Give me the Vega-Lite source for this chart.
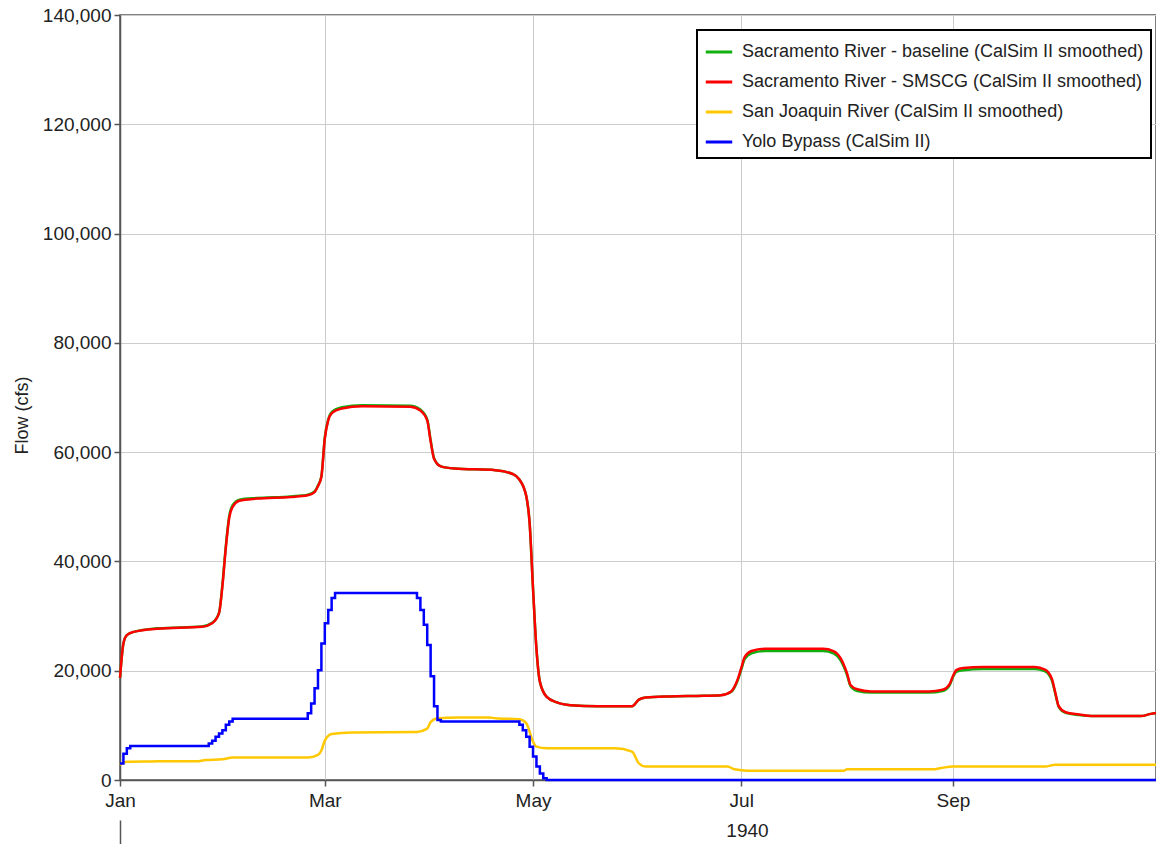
{
"$schema":"https://vega.github.io/schema/vega-lite/v6.json",
"width":1036,"height":765,
"autosize":{"type":"none"},
"padding":{"left":120,"top":15,"right":0,"bottom":64},
"background":"white",
"config":{
 "font":"Liberation Sans",
 "view":{"stroke":"#555","strokeWidth":1.5},
 "axis":{"labelFont":"Liberation Sans","labelFontSize":19,"labelColor":"#222","titleFont":"Liberation Sans","titleFontWeight":"normal","titleColor":"#222","domainColor":"#555","domainWidth":1.5,"tickColor":"#555","tickWidth":1.5,"gridColor":"#cccccc","gridWidth":1},
 "legend":{"strokeColor":"#000","strokeWidth":2,"fillColor":"#fff","cornerRadius":0,"padding":7}
},
"datasets":{
"main":[
{"date":"1940-01-01","series":"Sacramento River - baseline (CalSim II smoothed)","flow":18700},
{"date":"1940-01-02","series":"Sacramento River - baseline (CalSim II smoothed)","flow":25000},
{"date":"1940-01-03","series":"Sacramento River - baseline (CalSim II smoothed)","flow":26500},
{"date":"1940-01-05","series":"Sacramento River - baseline (CalSim II smoothed)","flow":27100},
{"date":"1940-01-12","series":"Sacramento River - baseline (CalSim II smoothed)","flow":27750},
{"date":"1940-01-25","series":"Sacramento River - baseline (CalSim II smoothed)","flow":28100},
{"date":"1940-01-28","series":"Sacramento River - baseline (CalSim II smoothed)","flow":28750},
{"date":"1940-01-30","series":"Sacramento River - baseline (CalSim II smoothed)","flow":30600},
{"date":"1940-01-31","series":"Sacramento River - baseline (CalSim II smoothed)","flow":35700},
{"date":"1940-02-01","series":"Sacramento River - baseline (CalSim II smoothed)","flow":42800},
{"date":"1940-02-02","series":"Sacramento River - baseline (CalSim II smoothed)","flow":48300},
{"date":"1940-02-03","series":"Sacramento River - baseline (CalSim II smoothed)","flow":50300},
{"date":"1940-02-05","series":"Sacramento River - baseline (CalSim II smoothed)","flow":51300},
{"date":"1940-02-10","series":"Sacramento River - baseline (CalSim II smoothed)","flow":51600},
{"date":"1940-02-20","series":"Sacramento River - baseline (CalSim II smoothed)","flow":51900},
{"date":"1940-02-25","series":"Sacramento River - baseline (CalSim II smoothed)","flow":52200},
{"date":"1940-02-27","series":"Sacramento River - baseline (CalSim II smoothed)","flow":52800},
{"date":"1940-02-28","series":"Sacramento River - baseline (CalSim II smoothed)","flow":53900},
{"date":"1940-02-29","series":"Sacramento River - baseline (CalSim II smoothed)","flow":55600},
{"date":"1940-03-01","series":"Sacramento River - baseline (CalSim II smoothed)","flow":62700},
{"date":"1940-03-02","series":"Sacramento River - baseline (CalSim II smoothed)","flow":66000},
{"date":"1940-03-03","series":"Sacramento River - baseline (CalSim II smoothed)","flow":67300},
{"date":"1940-03-06","series":"Sacramento River - baseline (CalSim II smoothed)","flow":68200},
{"date":"1940-03-12","series":"Sacramento River - baseline (CalSim II smoothed)","flow":68600},
{"date":"1940-03-26","series":"Sacramento River - baseline (CalSim II smoothed)","flow":68500},
{"date":"1940-03-29","series":"Sacramento River - baseline (CalSim II smoothed)","flow":67800},
{"date":"1940-03-31","series":"Sacramento River - baseline (CalSim II smoothed)","flow":66000},
{"date":"1940-04-01","series":"Sacramento River - baseline (CalSim II smoothed)","flow":62200},
{"date":"1940-04-02","series":"Sacramento River - baseline (CalSim II smoothed)","flow":58900},
{"date":"1940-04-04","series":"Sacramento River - baseline (CalSim II smoothed)","flow":57400},
{"date":"1940-04-08","series":"Sacramento River - baseline (CalSim II smoothed)","flow":57000},
{"date":"1940-04-20","series":"Sacramento River - baseline (CalSim II smoothed)","flow":56700},
{"date":"1940-04-25","series":"Sacramento River - baseline (CalSim II smoothed)","flow":56000},
{"date":"1940-04-27","series":"Sacramento River - baseline (CalSim II smoothed)","flow":55000},
{"date":"1940-04-29","series":"Sacramento River - baseline (CalSim II smoothed)","flow":52000},
{"date":"1940-04-30","series":"Sacramento River - baseline (CalSim II smoothed)","flow":47000},
{"date":"1940-05-01","series":"Sacramento River - baseline (CalSim II smoothed)","flow":35000},
{"date":"1940-05-02","series":"Sacramento River - baseline (CalSim II smoothed)","flow":24000},
{"date":"1940-05-03","series":"Sacramento River - baseline (CalSim II smoothed)","flow":18000},
{"date":"1940-05-05","series":"Sacramento River - baseline (CalSim II smoothed)","flow":15200},
{"date":"1940-05-08","series":"Sacramento River - baseline (CalSim II smoothed)","flow":14200},
{"date":"1940-05-12","series":"Sacramento River - baseline (CalSim II smoothed)","flow":13700},
{"date":"1940-05-20","series":"Sacramento River - baseline (CalSim II smoothed)","flow":13500},
{"date":"1940-05-30","series":"Sacramento River - baseline (CalSim II smoothed)","flow":13500},
{"date":"1940-06-01","series":"Sacramento River - baseline (CalSim II smoothed)","flow":14700},
{"date":"1940-06-03","series":"Sacramento River - baseline (CalSim II smoothed)","flow":15100},
{"date":"1940-06-10","series":"Sacramento River - baseline (CalSim II smoothed)","flow":15300},
{"date":"1940-06-20","series":"Sacramento River - baseline (CalSim II smoothed)","flow":15400},
{"date":"1940-06-25","series":"Sacramento River - baseline (CalSim II smoothed)","flow":15500},
{"date":"1940-06-28","series":"Sacramento River - baseline (CalSim II smoothed)","flow":16100},
{"date":"1940-06-30","series":"Sacramento River - baseline (CalSim II smoothed)","flow":18300},
{"date":"1940-07-01","series":"Sacramento River - baseline (CalSim II smoothed)","flow":20200},
{"date":"1940-07-02","series":"Sacramento River - baseline (CalSim II smoothed)","flow":22100},
{"date":"1940-07-04","series":"Sacramento River - baseline (CalSim II smoothed)","flow":23200},
{"date":"1940-07-08","series":"Sacramento River - baseline (CalSim II smoothed)","flow":23600},
{"date":"1940-07-25","series":"Sacramento River - baseline (CalSim II smoothed)","flow":23600},
{"date":"1940-07-28","series":"Sacramento River - baseline (CalSim II smoothed)","flow":23200},
{"date":"1940-07-30","series":"Sacramento River - baseline (CalSim II smoothed)","flow":22000},
{"date":"1940-08-01","series":"Sacramento River - baseline (CalSim II smoothed)","flow":19200},
{"date":"1940-08-02","series":"Sacramento River - baseline (CalSim II smoothed)","flow":17200},
{"date":"1940-08-04","series":"Sacramento River - baseline (CalSim II smoothed)","flow":16300},
{"date":"1940-08-08","series":"Sacramento River - baseline (CalSim II smoothed)","flow":16000},
{"date":"1940-08-25","series":"Sacramento River - baseline (CalSim II smoothed)","flow":16000},
{"date":"1940-08-29","series":"Sacramento River - baseline (CalSim II smoothed)","flow":16300},
{"date":"1940-08-31","series":"Sacramento River - baseline (CalSim II smoothed)","flow":17300},
{"date":"1940-09-01","series":"Sacramento River - baseline (CalSim II smoothed)","flow":18800},
{"date":"1940-09-02","series":"Sacramento River - baseline (CalSim II smoothed)","flow":19800},
{"date":"1940-09-04","series":"Sacramento River - baseline (CalSim II smoothed)","flow":20100},
{"date":"1940-09-10","series":"Sacramento River - baseline (CalSim II smoothed)","flow":20300},
{"date":"1940-09-25","series":"Sacramento River - baseline (CalSim II smoothed)","flow":20300},
{"date":"1940-09-28","series":"Sacramento River - baseline (CalSim II smoothed)","flow":19900},
{"date":"1940-09-30","series":"Sacramento River - baseline (CalSim II smoothed)","flow":18200},
{"date":"1940-10-01","series":"Sacramento River - baseline (CalSim II smoothed)","flow":15800},
{"date":"1940-10-02","series":"Sacramento River - baseline (CalSim II smoothed)","flow":13400},
{"date":"1940-10-04","series":"Sacramento River - baseline (CalSim II smoothed)","flow":12300},
{"date":"1940-10-08","series":"Sacramento River - baseline (CalSim II smoothed)","flow":11900},
{"date":"1940-10-12","series":"Sacramento River - baseline (CalSim II smoothed)","flow":11700},
{"date":"1940-10-26","series":"Sacramento River - baseline (CalSim II smoothed)","flow":11700},
{"date":"1940-10-29","series":"Sacramento River - baseline (CalSim II smoothed)","flow":12100},
{"date":"1940-10-31","series":"Sacramento River - baseline (CalSim II smoothed)","flow":12300},
{"date":"1940-01-01","series":"Sacramento River - SMSCG (CalSim II smoothed)","flow":18700},
{"date":"1940-01-02","series":"Sacramento River - SMSCG (CalSim II smoothed)","flow":25000},
{"date":"1940-01-03","series":"Sacramento River - SMSCG (CalSim II smoothed)","flow":26500},
{"date":"1940-01-05","series":"Sacramento River - SMSCG (CalSim II smoothed)","flow":27100},
{"date":"1940-01-12","series":"Sacramento River - SMSCG (CalSim II smoothed)","flow":27700},
{"date":"1940-01-25","series":"Sacramento River - SMSCG (CalSim II smoothed)","flow":28050},
{"date":"1940-01-28","series":"Sacramento River - SMSCG (CalSim II smoothed)","flow":28700},
{"date":"1940-01-30","series":"Sacramento River - SMSCG (CalSim II smoothed)","flow":30500},
{"date":"1940-01-31","series":"Sacramento River - SMSCG (CalSim II smoothed)","flow":35500},
{"date":"1940-02-01","series":"Sacramento River - SMSCG (CalSim II smoothed)","flow":42500},
{"date":"1940-02-02","series":"Sacramento River - SMSCG (CalSim II smoothed)","flow":48000},
{"date":"1940-02-03","series":"Sacramento River - SMSCG (CalSim II smoothed)","flow":50000},
{"date":"1940-02-05","series":"Sacramento River - SMSCG (CalSim II smoothed)","flow":51100},
{"date":"1940-02-10","series":"Sacramento River - SMSCG (CalSim II smoothed)","flow":51500},
{"date":"1940-02-20","series":"Sacramento River - SMSCG (CalSim II smoothed)","flow":51800},
{"date":"1940-02-25","series":"Sacramento River - SMSCG (CalSim II smoothed)","flow":52100},
{"date":"1940-02-27","series":"Sacramento River - SMSCG (CalSim II smoothed)","flow":52700},
{"date":"1940-02-28","series":"Sacramento River - SMSCG (CalSim II smoothed)","flow":53800},
{"date":"1940-02-29","series":"Sacramento River - SMSCG (CalSim II smoothed)","flow":55500},
{"date":"1940-03-01","series":"Sacramento River - SMSCG (CalSim II smoothed)","flow":62500},
{"date":"1940-03-02","series":"Sacramento River - SMSCG (CalSim II smoothed)","flow":65800},
{"date":"1940-03-03","series":"Sacramento River - SMSCG (CalSim II smoothed)","flow":67100},
{"date":"1940-03-06","series":"Sacramento River - SMSCG (CalSim II smoothed)","flow":68000},
{"date":"1940-03-12","series":"Sacramento River - SMSCG (CalSim II smoothed)","flow":68400},
{"date":"1940-03-26","series":"Sacramento River - SMSCG (CalSim II smoothed)","flow":68300},
{"date":"1940-03-29","series":"Sacramento River - SMSCG (CalSim II smoothed)","flow":67600},
{"date":"1940-03-31","series":"Sacramento River - SMSCG (CalSim II smoothed)","flow":65800},
{"date":"1940-04-01","series":"Sacramento River - SMSCG (CalSim II smoothed)","flow":62000},
{"date":"1940-04-02","series":"Sacramento River - SMSCG (CalSim II smoothed)","flow":58800},
{"date":"1940-04-04","series":"Sacramento River - SMSCG (CalSim II smoothed)","flow":57400},
{"date":"1940-04-08","series":"Sacramento River - SMSCG (CalSim II smoothed)","flow":57000},
{"date":"1940-04-20","series":"Sacramento River - SMSCG (CalSim II smoothed)","flow":56700},
{"date":"1940-04-25","series":"Sacramento River - SMSCG (CalSim II smoothed)","flow":56000},
{"date":"1940-04-27","series":"Sacramento River - SMSCG (CalSim II smoothed)","flow":55000},
{"date":"1940-04-29","series":"Sacramento River - SMSCG (CalSim II smoothed)","flow":52000},
{"date":"1940-04-30","series":"Sacramento River - SMSCG (CalSim II smoothed)","flow":47000},
{"date":"1940-05-01","series":"Sacramento River - SMSCG (CalSim II smoothed)","flow":35000},
{"date":"1940-05-02","series":"Sacramento River - SMSCG (CalSim II smoothed)","flow":24000},
{"date":"1940-05-03","series":"Sacramento River - SMSCG (CalSim II smoothed)","flow":18000},
{"date":"1940-05-05","series":"Sacramento River - SMSCG (CalSim II smoothed)","flow":15200},
{"date":"1940-05-08","series":"Sacramento River - SMSCG (CalSim II smoothed)","flow":14200},
{"date":"1940-05-12","series":"Sacramento River - SMSCG (CalSim II smoothed)","flow":13700},
{"date":"1940-05-20","series":"Sacramento River - SMSCG (CalSim II smoothed)","flow":13500},
{"date":"1940-05-30","series":"Sacramento River - SMSCG (CalSim II smoothed)","flow":13500},
{"date":"1940-06-01","series":"Sacramento River - SMSCG (CalSim II smoothed)","flow":14700},
{"date":"1940-06-03","series":"Sacramento River - SMSCG (CalSim II smoothed)","flow":15100},
{"date":"1940-06-10","series":"Sacramento River - SMSCG (CalSim II smoothed)","flow":15300},
{"date":"1940-06-20","series":"Sacramento River - SMSCG (CalSim II smoothed)","flow":15400},
{"date":"1940-06-25","series":"Sacramento River - SMSCG (CalSim II smoothed)","flow":15500},
{"date":"1940-06-28","series":"Sacramento River - SMSCG (CalSim II smoothed)","flow":16200},
{"date":"1940-06-30","series":"Sacramento River - SMSCG (CalSim II smoothed)","flow":18500},
{"date":"1940-07-01","series":"Sacramento River - SMSCG (CalSim II smoothed)","flow":20500},
{"date":"1940-07-02","series":"Sacramento River - SMSCG (CalSim II smoothed)","flow":22500},
{"date":"1940-07-04","series":"Sacramento River - SMSCG (CalSim II smoothed)","flow":23600},
{"date":"1940-07-08","series":"Sacramento River - SMSCG (CalSim II smoothed)","flow":24000},
{"date":"1940-07-25","series":"Sacramento River - SMSCG (CalSim II smoothed)","flow":24000},
{"date":"1940-07-28","series":"Sacramento River - SMSCG (CalSim II smoothed)","flow":23600},
{"date":"1940-07-30","series":"Sacramento River - SMSCG (CalSim II smoothed)","flow":22400},
{"date":"1940-08-01","series":"Sacramento River - SMSCG (CalSim II smoothed)","flow":19500},
{"date":"1940-08-02","series":"Sacramento River - SMSCG (CalSim II smoothed)","flow":17400},
{"date":"1940-08-04","series":"Sacramento River - SMSCG (CalSim II smoothed)","flow":16600},
{"date":"1940-08-08","series":"Sacramento River - SMSCG (CalSim II smoothed)","flow":16200},
{"date":"1940-08-25","series":"Sacramento River - SMSCG (CalSim II smoothed)","flow":16200},
{"date":"1940-08-29","series":"Sacramento River - SMSCG (CalSim II smoothed)","flow":16500},
{"date":"1940-08-31","series":"Sacramento River - SMSCG (CalSim II smoothed)","flow":17500},
{"date":"1940-09-01","series":"Sacramento River - SMSCG (CalSim II smoothed)","flow":19000},
{"date":"1940-09-02","series":"Sacramento River - SMSCG (CalSim II smoothed)","flow":20100},
{"date":"1940-09-04","series":"Sacramento River - SMSCG (CalSim II smoothed)","flow":20500},
{"date":"1940-09-10","series":"Sacramento River - SMSCG (CalSim II smoothed)","flow":20700},
{"date":"1940-09-25","series":"Sacramento River - SMSCG (CalSim II smoothed)","flow":20700},
{"date":"1940-09-28","series":"Sacramento River - SMSCG (CalSim II smoothed)","flow":20200},
{"date":"1940-09-30","series":"Sacramento River - SMSCG (CalSim II smoothed)","flow":18500},
{"date":"1940-10-01","series":"Sacramento River - SMSCG (CalSim II smoothed)","flow":16000},
{"date":"1940-10-02","series":"Sacramento River - SMSCG (CalSim II smoothed)","flow":13500},
{"date":"1940-10-04","series":"Sacramento River - SMSCG (CalSim II smoothed)","flow":12400},
{"date":"1940-10-08","series":"Sacramento River - SMSCG (CalSim II smoothed)","flow":12000},
{"date":"1940-10-12","series":"Sacramento River - SMSCG (CalSim II smoothed)","flow":11700},
{"date":"1940-10-26","series":"Sacramento River - SMSCG (CalSim II smoothed)","flow":11700},
{"date":"1940-10-29","series":"Sacramento River - SMSCG (CalSim II smoothed)","flow":12100},
{"date":"1940-10-31","series":"Sacramento River - SMSCG (CalSim II smoothed)","flow":12300},
{"date":"1940-01-01","series":"San Joaquin River (CalSim II smoothed)","flow":2750},
{"date":"1940-01-03","series":"San Joaquin River (CalSim II smoothed)","flow":3350},
{"date":"1940-01-10","series":"San Joaquin River (CalSim II smoothed)","flow":3400},
{"date":"1940-01-24","series":"San Joaquin River (CalSim II smoothed)","flow":3450},
{"date":"1940-01-26","series":"San Joaquin River (CalSim II smoothed)","flow":3650},
{"date":"1940-01-31","series":"San Joaquin River (CalSim II smoothed)","flow":3800},
{"date":"1940-02-03","series":"San Joaquin River (CalSim II smoothed)","flow":4100},
{"date":"1940-02-25","series":"San Joaquin River (CalSim II smoothed)","flow":4100},
{"date":"1940-02-28","series":"San Joaquin River (CalSim II smoothed)","flow":4600},
{"date":"1940-02-29","series":"San Joaquin River (CalSim II smoothed)","flow":5400},
{"date":"1940-03-01","series":"San Joaquin River (CalSim II smoothed)","flow":7200},
{"date":"1940-03-03","series":"San Joaquin River (CalSim II smoothed)","flow":8400},
{"date":"1940-03-09","series":"San Joaquin River (CalSim II smoothed)","flow":8700},
{"date":"1940-03-28","series":"San Joaquin River (CalSim II smoothed)","flow":8800},
{"date":"1940-03-31","series":"San Joaquin River (CalSim II smoothed)","flow":9400},
{"date":"1940-04-01","series":"San Joaquin River (CalSim II smoothed)","flow":10600},
{"date":"1940-04-03","series":"San Joaquin River (CalSim II smoothed)","flow":11300},
{"date":"1940-04-09","series":"San Joaquin River (CalSim II smoothed)","flow":11450},
{"date":"1940-04-18","series":"San Joaquin River (CalSim II smoothed)","flow":11450},
{"date":"1940-04-20","series":"San Joaquin River (CalSim II smoothed)","flow":11300},
{"date":"1940-04-27","series":"San Joaquin River (CalSim II smoothed)","flow":11100},
{"date":"1940-04-29","series":"San Joaquin River (CalSim II smoothed)","flow":10400},
{"date":"1940-05-01","series":"San Joaquin River (CalSim II smoothed)","flow":7000},
{"date":"1940-05-02","series":"San Joaquin River (CalSim II smoothed)","flow":6100},
{"date":"1940-05-05","series":"San Joaquin River (CalSim II smoothed)","flow":5800},
{"date":"1940-05-25","series":"San Joaquin River (CalSim II smoothed)","flow":5800},
{"date":"1940-05-30","series":"San Joaquin River (CalSim II smoothed)","flow":5200},
{"date":"1940-06-01","series":"San Joaquin River (CalSim II smoothed)","flow":3050},
{"date":"1940-06-03","series":"San Joaquin River (CalSim II smoothed)","flow":2450},
{"date":"1940-06-27","series":"San Joaquin River (CalSim II smoothed)","flow":2450},
{"date":"1940-06-29","series":"San Joaquin River (CalSim II smoothed)","flow":1950},
{"date":"1940-07-03","series":"San Joaquin River (CalSim II smoothed)","flow":1700},
{"date":"1940-07-31","series":"San Joaquin River (CalSim II smoothed)","flow":1700},
{"date":"1940-08-01","series":"San Joaquin River (CalSim II smoothed)","flow":1950},
{"date":"1940-08-26","series":"San Joaquin River (CalSim II smoothed)","flow":1950},
{"date":"1940-08-29","series":"San Joaquin River (CalSim II smoothed)","flow":2250},
{"date":"1940-09-01","series":"San Joaquin River (CalSim II smoothed)","flow":2450},
{"date":"1940-09-28","series":"San Joaquin River (CalSim II smoothed)","flow":2450},
{"date":"1940-10-01","series":"San Joaquin River (CalSim II smoothed)","flow":2800},
{"date":"1940-10-31","series":"San Joaquin River (CalSim II smoothed)","flow":2800}
],
"yolo":[
{"date":"1940-01-01","series":"Yolo Bypass (CalSim II)","flow":3000},
{"date":"1940-01-02","series":"Yolo Bypass (CalSim II)","flow":4800},
{"date":"1940-01-03","series":"Yolo Bypass (CalSim II)","flow":5800},
{"date":"1940-01-04","series":"Yolo Bypass (CalSim II)","flow":6200},
{"date":"1940-01-27","series":"Yolo Bypass (CalSim II)","flow":6700},
{"date":"1940-01-28","series":"Yolo Bypass (CalSim II)","flow":7200},
{"date":"1940-01-29","series":"Yolo Bypass (CalSim II)","flow":7900},
{"date":"1940-01-30","series":"Yolo Bypass (CalSim II)","flow":8500},
{"date":"1940-01-31","series":"Yolo Bypass (CalSim II)","flow":9100},
{"date":"1940-02-01","series":"Yolo Bypass (CalSim II)","flow":10100},
{"date":"1940-02-02","series":"Yolo Bypass (CalSim II)","flow":10700},
{"date":"1940-02-03","series":"Yolo Bypass (CalSim II)","flow":11200},
{"date":"1940-02-25","series":"Yolo Bypass (CalSim II)","flow":12200},
{"date":"1940-02-26","series":"Yolo Bypass (CalSim II)","flow":14000},
{"date":"1940-02-27","series":"Yolo Bypass (CalSim II)","flow":16800},
{"date":"1940-02-28","series":"Yolo Bypass (CalSim II)","flow":20100},
{"date":"1940-02-29","series":"Yolo Bypass (CalSim II)","flow":25000},
{"date":"1940-03-01","series":"Yolo Bypass (CalSim II)","flow":28700},
{"date":"1940-03-02","series":"Yolo Bypass (CalSim II)","flow":31100},
{"date":"1940-03-03","series":"Yolo Bypass (CalSim II)","flow":33300},
{"date":"1940-03-04","series":"Yolo Bypass (CalSim II)","flow":34200},
{"date":"1940-03-28","series":"Yolo Bypass (CalSim II)","flow":33300},
{"date":"1940-03-29","series":"Yolo Bypass (CalSim II)","flow":31100},
{"date":"1940-03-30","series":"Yolo Bypass (CalSim II)","flow":28400},
{"date":"1940-03-31","series":"Yolo Bypass (CalSim II)","flow":24700},
{"date":"1940-04-01","series":"Yolo Bypass (CalSim II)","flow":19000},
{"date":"1940-04-02","series":"Yolo Bypass (CalSim II)","flow":13500},
{"date":"1940-04-03","series":"Yolo Bypass (CalSim II)","flow":11000},
{"date":"1940-04-04","series":"Yolo Bypass (CalSim II)","flow":10700},
{"date":"1940-04-27","series":"Yolo Bypass (CalSim II)","flow":10100},
{"date":"1940-04-28","series":"Yolo Bypass (CalSim II)","flow":9100},
{"date":"1940-04-29","series":"Yolo Bypass (CalSim II)","flow":7900},
{"date":"1940-04-30","series":"Yolo Bypass (CalSim II)","flow":6100},
{"date":"1940-05-01","series":"Yolo Bypass (CalSim II)","flow":4300},
{"date":"1940-05-02","series":"Yolo Bypass (CalSim II)","flow":2450},
{"date":"1940-05-03","series":"Yolo Bypass (CalSim II)","flow":1200},
{"date":"1940-05-04","series":"Yolo Bypass (CalSim II)","flow":300},
{"date":"1940-05-05","series":"Yolo Bypass (CalSim II)","flow":0},
{"date":"1940-10-31","series":"Yolo Bypass (CalSim II)","flow":0}
]
},
"layer":[
{
 "data":{"name":"main"},
 "mark":{"type":"line","interpolate":"monotone","strokeWidth":2.5},
 "encoding":{
  "x":{"field":"date","type":"temporal","scale":{"type":"utc","domain":[{"year":1940,"month":1,"date":1,"utc":true},{"year":1940,"month":10,"date":30,"hours":12,"utc":true}]},
   "axis":{"format":"%b","values":[{"year":1940,"month":1,"date":1,"utc":true},{"year":1940,"month":3,"date":1,"utc":true},{"year":1940,"month":5,"date":1,"utc":true},{"year":1940,"month":7,"date":1,"utc":true},{"year":1940,"month":9,"date":1,"utc":true}],"tickSize":6,"labelPadding":5,"title":"1940","titleFontSize":19,"titleX":627,"titlePadding":11,"grid":true,"labelFlush":false}},
  "y":{"field":"flow","type":"quantitative","scale":{"domain":[0,140000],"nice":false,"zero":true},
   "axis":{"title":"Flow (cfs)","titleFontSize":18,"titleX":-98,"titleY":400,"titleBaseline":"middle","values":[0,20000,40000,60000,80000,100000,120000,140000],"format":",.0f","tickSize":6,"labelPadding":3,"grid":true}},
  "color":{"field":"series","type":"nominal","scale":{"domain":["Sacramento River - baseline (CalSim II smoothed)","Sacramento River - SMSCG (CalSim II smoothed)","San Joaquin River (CalSim II smoothed)","Yolo Bypass (CalSim II)"],"range":["#10b010","#ff0000","#ffc800","#0000ff"]},
   "legend":{"title":null,"orient":"none","legendX":577,"legendY":15,"symbolType":"stroke","symbolSize":700,"symbolStrokeWidth":3,"labelFontSize":18,"labelFont":"Liberation Sans","labelColor":"#222","rowPadding":6,"labelOffset":8,"labelLimit":600}}
 }
},
{
 "data":{"name":"yolo"},
 "mark":{"type":"line","interpolate":"step-after","strokeWidth":2.5},
 "encoding":{
  "x":{"field":"date","type":"temporal","scale":{"type":"utc","domain":[{"year":1940,"month":1,"date":1,"utc":true},{"year":1940,"month":10,"date":30,"hours":12,"utc":true}]},
   "axis":{"orient":"bottom","offset":40,"values":[{"year":1940,"month":1,"date":1,"utc":true}],"tickSize":24,"labels":false,"domain":false,"grid":false,"title":null}},
  "y":{"field":"flow","type":"quantitative"},
  "color":{"field":"series","type":"nominal"}
 }
}
],
"resolve":{"axis":{"x":"independent"}}
}
